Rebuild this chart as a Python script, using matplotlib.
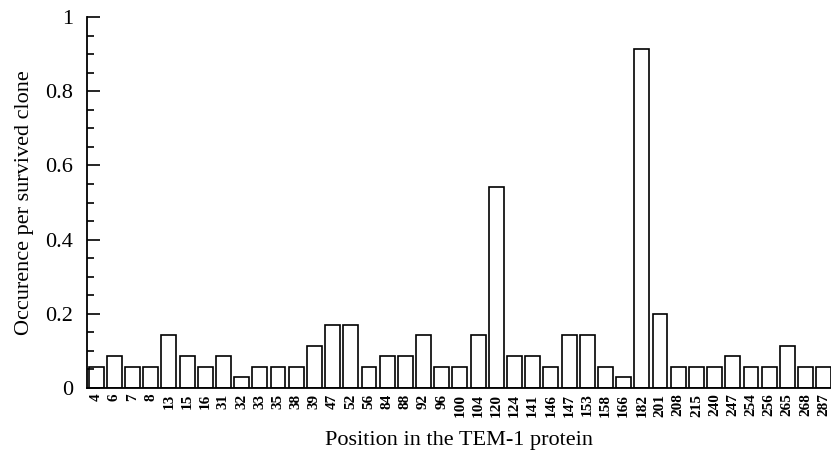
import matplotlib.pyplot as plt
from matplotlib.ticker import MultipleLocator

# positions in TEM-1 and occurrence per survived clone (35 clones)
positions = ["4", "6", "7", "8", "13", "15", "16", "31", "32", "33", "35", "38",
             "39", "47", "52", "56", "84", "88", "92", "96", "100", "104", "120",
             "124", "141", "146", "147", "153", "158", "166", "182", "201", "208",
             "215", "240", "247", "254", "256", "265", "268", "287"]
occurence = [0.057, 0.086, 0.057, 0.057, 0.143, 0.086, 0.057, 0.086, 0.029, 0.057,
             0.057, 0.057, 0.114, 0.171, 0.171, 0.057, 0.086, 0.086, 0.143, 0.057,
             0.057, 0.143, 0.543, 0.086, 0.086, 0.057, 0.143, 0.143, 0.057, 0.029,
             0.914, 0.200, 0.057, 0.057, 0.057, 0.086, 0.057, 0.057, 0.114, 0.057,
             0.057]

plt.rcParams['font.family'] = ['Liberation Serif', 'DejaVu Serif']

fig = plt.figure(figsize=(8.31, 4.59), dpi=100)
ax = fig.add_axes([0.1047, 0.1547, 0.8953, 0.808])

x = range(len(positions))
ax.bar(x, occurence, width=0.82, color="white", edgecolor="black", linewidth=1.2)

ax.set_xlim(-0.5, 40.4)
ax.set_ylim(0, 1)
ax.set_xticks(list(x))
ax.set_xticklabels(positions, rotation=90, fontsize=11, fontweight="bold")
ax.tick_params(axis="x", length=0, pad=4)

ax.yaxis.set_major_locator(MultipleLocator(0.2))
ax.yaxis.set_minor_locator(MultipleLocator(0.05))
ax.set_yticks([0, 0.2, 0.4, 0.6, 0.8, 1])
ax.set_yticklabels(["0", "0.2", "0.4", "0.6", "0.8", "1"], fontsize=16)
ax.tick_params(axis="y", which="major", direction="in", length=9, width=1.2, pad=10)
ax.tick_params(axis="y", which="minor", direction="in", length=5, width=1.2)

ax.spines["top"].set_visible(False)
ax.spines["right"].set_visible(False)
ax.spines["left"].set_linewidth(1.3)
ax.spines["bottom"].set_linewidth(1.3)

ax.set_ylabel("Occurence per survived clone", fontsize=16, labelpad=8)
ax.set_xlabel("Position in the TEM-1 protein", fontsize=16, labelpad=10)

fig.savefig("out.png", dpi=100)
